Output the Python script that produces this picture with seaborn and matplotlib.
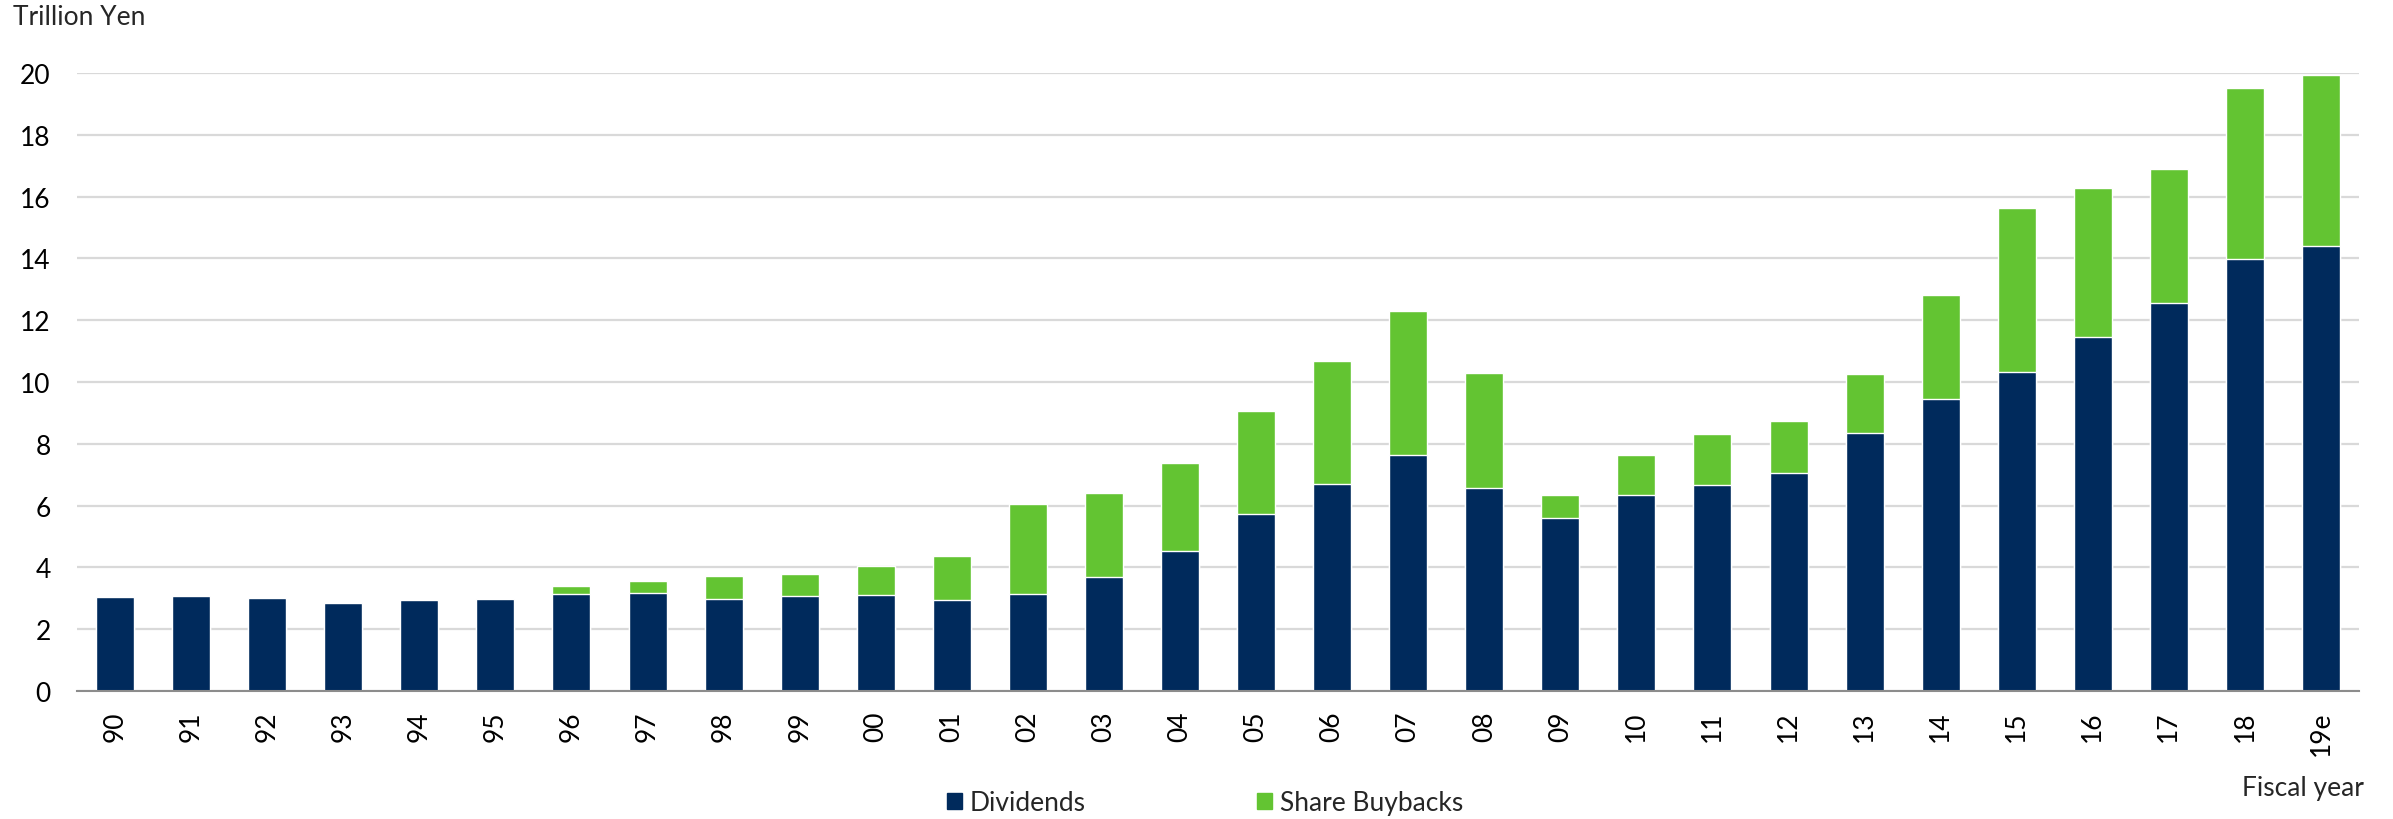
import seaborn as sns
import matplotlib.pyplot as plt
import matplotlib.patches as mpatches
import pandas as pd

years = ["90", "91", "92", "93", "94", "95", "96", "97", "98", "99",
         "00", "01", "02", "03", "04", "05", "06", "07", "08", "09",
         "10", "11", "12", "13", "14", "15", "16", "17", "18", "19e"]
dividends = [3.04, 3.06, 3.00, 2.84, 2.95, 2.98, 3.15, 3.18, 2.98, 3.07,
             3.11, 2.96, 3.13, 3.68, 4.54, 5.74, 6.71, 7.65, 6.58, 5.60,
             6.35, 6.68, 7.07, 8.36, 9.46, 10.33, 11.45, 12.55, 13.99, 14.41]
buybacks = [0.0, 0.0, 0.0, 0.0, 0.0, 0.0, 0.26, 0.38, 0.75, 0.71,
            0.92, 1.41, 2.92, 2.74, 2.83, 3.31, 3.98, 4.64, 3.72, 0.73,
            1.29, 1.64, 1.67, 1.90, 3.36, 5.30, 4.82, 4.34, 5.51, 5.51]

navy = "#002A5C"
green = "#63C432"

df = pd.DataFrame({"year": years, "div": dividends, "buy": buybacks})
df["total"] = df["div"] + df["buy"]

sns.set_style("white")
plt.rcParams["font.family"] = ["Lato", "DejaVu Sans"]

fig = plt.figure(figsize=(23.93, 8.2), dpi=100)
ax = fig.add_axes([0.0322, 0.1561, 0.9536, 0.7537])

sns.barplot(data=df, x="year", y="total", color=green, width=0.5,
            saturation=1, ax=ax, zorder=2)
sns.barplot(data=df, x="year", y="div", color=navy, width=0.5,
            saturation=1, ax=ax, zorder=3)

ax.set_xlim(-0.5, len(years) - 0.5)
ax.set_ylim(0, 20)
ax.set_yticks(range(0, 21, 2))
ax.grid(axis="y", color="#D9D9D9", linewidth=1.6, zorder=0)
ax.set_axisbelow(True)
for s in ["top", "right", "left"]:
    ax.spines[s].set_visible(False)
ax.spines["bottom"].set_color("#8C8C8C")
ax.spines["bottom"].set_linewidth(1.5)
ax.spines["bottom"].set_zorder(4)

ax.set_xlabel("")
ax.set_ylabel("")
ax.tick_params(axis="y", length=0, pad=19, labelsize=19, labelcolor="#000000")
ax.tick_params(axis="x", which="major", length=0, pad=14, labelsize=19,
               labelrotation=90, labelcolor="#000000")
ax.set_xticks([i - 0.5 for i in range(len(years) + 1)], minor=True)
ax.tick_params(axis="x", which="minor", length=6.5, width=1.5, color="#8C8C8C")

fig.text(0.0055, 0.979, "Trillion Yen", fontsize=19, va="center", ha="left")
fig.text(0.988, 0.039, "Fiscal year", fontsize=19, va="center", ha="right")

handles = [mpatches.Patch(color=navy, label="Dividends"),
           mpatches.Patch(color=green, label="Share Buybacks")]
fig.legend(handles=handles, loc="center left", bbox_to_anchor=(0.386, 0.02),
           ncol=2, frameon=False, fontsize=19, handlelength=0.55,
           handleheight=0.55, handletextpad=0.3, columnspacing=6.5)

fig.savefig("out.png", dpi=100)
